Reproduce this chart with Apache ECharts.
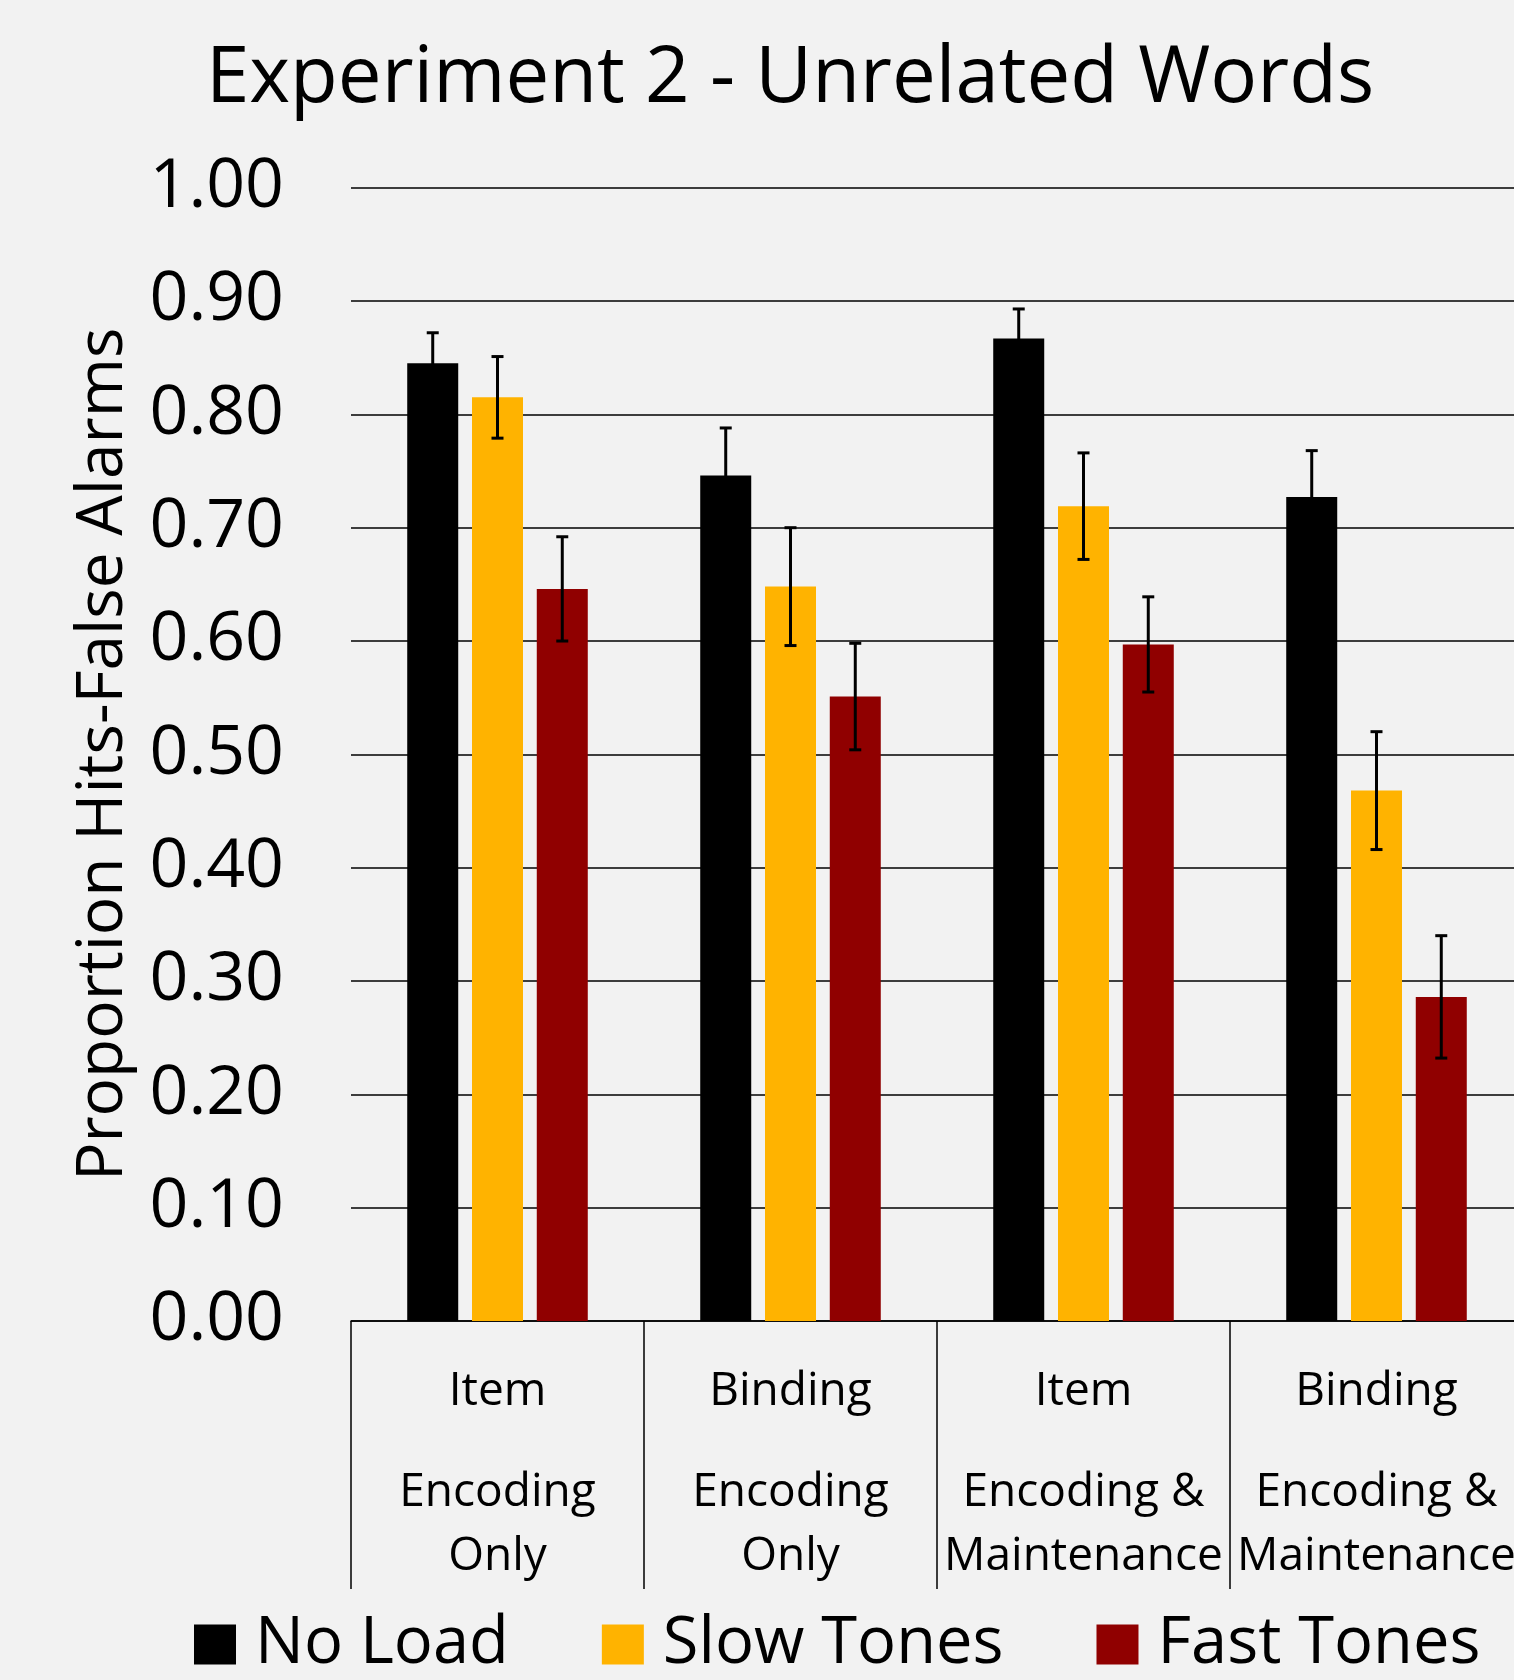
<!DOCTYPE html>
<html>
<head>
<meta charset="utf-8">
<script src="https://cdn.jsdelivr.net/npm/echarts@6/dist/echarts.min.js"></script>
<style>
  html, body { margin: 0; padding: 0; background: #f2f2f2; overflow: hidden; }
  /* plot runs past the right edge in the original, so the canvas is a bit wider than the page */
  #chart { width: 1523px; height: 1680px; }
</style>
</head>
<body>
<div id="chart"></div>
<script>
// data
const categories = [
  '{a|Item}\n{b|Encoding}\n{b|Only}',
  '{a|Binding}\n{b|Encoding}\n{b|Only}',
  '{a|Item}\n{b|Encoding &}\n{b|Maintenance}',
  '{a|Binding}\n{b|Encoding &}\n{b|Maintenance}'
];
const seriesNames = ['No Load', 'Slow Tones', 'Fast Tones'];
const colors = ['#000000', '#ffb300', '#900000'];
const noLoad = [0.845, 0.746, 0.867, 0.727];
const noLoadErr = [0.027, 0.042, 0.026, 0.041];
const slowTones = [0.815, 0.648, 0.719, 0.468];
const slowTonesErr = [0.036, 0.052, 0.047, 0.052];
const fastTones = [0.646, 0.551, 0.597, 0.286];
const fastTonesErr = [0.046, 0.047, 0.042, 0.054];

const values = [noLoad, slowTones, fastTones];
const errors = [noLoadErr, slowTonesErr, fastTonesErr];

const font = 'Open Sans';
const barW = 51;
const gapRatio = 0.27;

const chart = echarts.init(document.getElementById('chart'));

// error bars drawn as custom series, shifted to sit over their bar
function errorSeries(k) {
  const offset = (k - 1) * barW * (1 + gapRatio);
  return {
    type: 'custom',
    name: seriesNames[k] + ' err',
    z: 10,
    data: values[k].map((v, i) => [i, v - errors[k][i], v + errors[k][i]]),
    renderItem: function (params, api) {
      const lo = api.coord([api.value(0), api.value(1)]);
      const hi = api.coord([api.value(0), api.value(2)]);
      const x = lo[0] + offset;
      const cap = 6;
      const st = { stroke: '#000', lineWidth: 3 };
      return {
        type: 'group',
        children: [
          { type: 'line', shape: { x1: x, y1: lo[1], x2: x, y2: hi[1] }, style: st },
          { type: 'line', shape: { x1: x - cap, y1: lo[1], x2: x + cap, y2: lo[1] }, style: st },
          { type: 'line', shape: { x1: x - cap, y1: hi[1], x2: x + cap, y2: hi[1] }, style: st }
        ]
      };
    }
  };
}

const option = {
  backgroundColor: '#f2f2f2',
  animation: false,
  title: {
    text: 'Experiment 2 - Unrelated Words',
    left: 785,
    textAlign: 'center',
    top: 36,
    textStyle: { fontFamily: font, fontSize: 78, fontWeight: 'normal', color: '#000' }
  },
  legend: {
    data: seriesNames,
    left: 194,
    top: 1612,
    padding: 0,
    icon: 'rect',
    itemWidth: 42,
    itemHeight: 40,
    itemGap: 93,
    textStyle: { fontFamily: font, fontSize: 65, color: '#000', padding: [0, 0, 0, 14] }
  },
  grid: {
    left: 351,
    top: 187.7,
    bottom: 359,
    width: 1172,
    containLabel: false
  },
  xAxis: {
    type: 'category',
    data: categories,
    axisLine: { show: true, lineStyle: { color: '#000', width: 1.5 } },
    axisTick: { show: true, length: 268, lineStyle: { color: '#000', width: 1.5 } },
    axisLabel: {
      interval: 0,
      margin: 2,
      color: '#000',
      fontFamily: font,
      rich: {
        a: { fontFamily: font, fontSize: 46, lineHeight: 138, color: '#000' },
        b: { fontFamily: font, fontSize: 46, lineHeight: 64, color: '#000' }
      }
    }
  },
  yAxis: {
    type: 'value',
    min: 0,
    max: 1,
    interval: 0.1,
    name: 'Proportion Hits-False Alarms',
    nameLocation: 'middle',
    nameGap: 215,
    nameTextStyle: { fontFamily: font, fontSize: 64, color: '#000' },
    axisLine: { show: false },
    axisTick: { show: false },
    axisLabel: {
      margin: 67,
      fontFamily: font,
      fontSize: 68,
      color: '#000',
      formatter: v => v.toFixed(2)
    },
    splitLine: { lineStyle: { color: '#000', width: 1.5 } }
  },
  series: values.map((vals, k) => ({
    type: 'bar',
    name: seriesNames[k],
    data: vals,
    barWidth: barW,
    barGap: (gapRatio * 100) + '%',
    itemStyle: { color: colors[k] }
  })).concat([0, 1, 2].map(errorSeries))
};

chart.setOption(option);
</script>
</body>
</html>
